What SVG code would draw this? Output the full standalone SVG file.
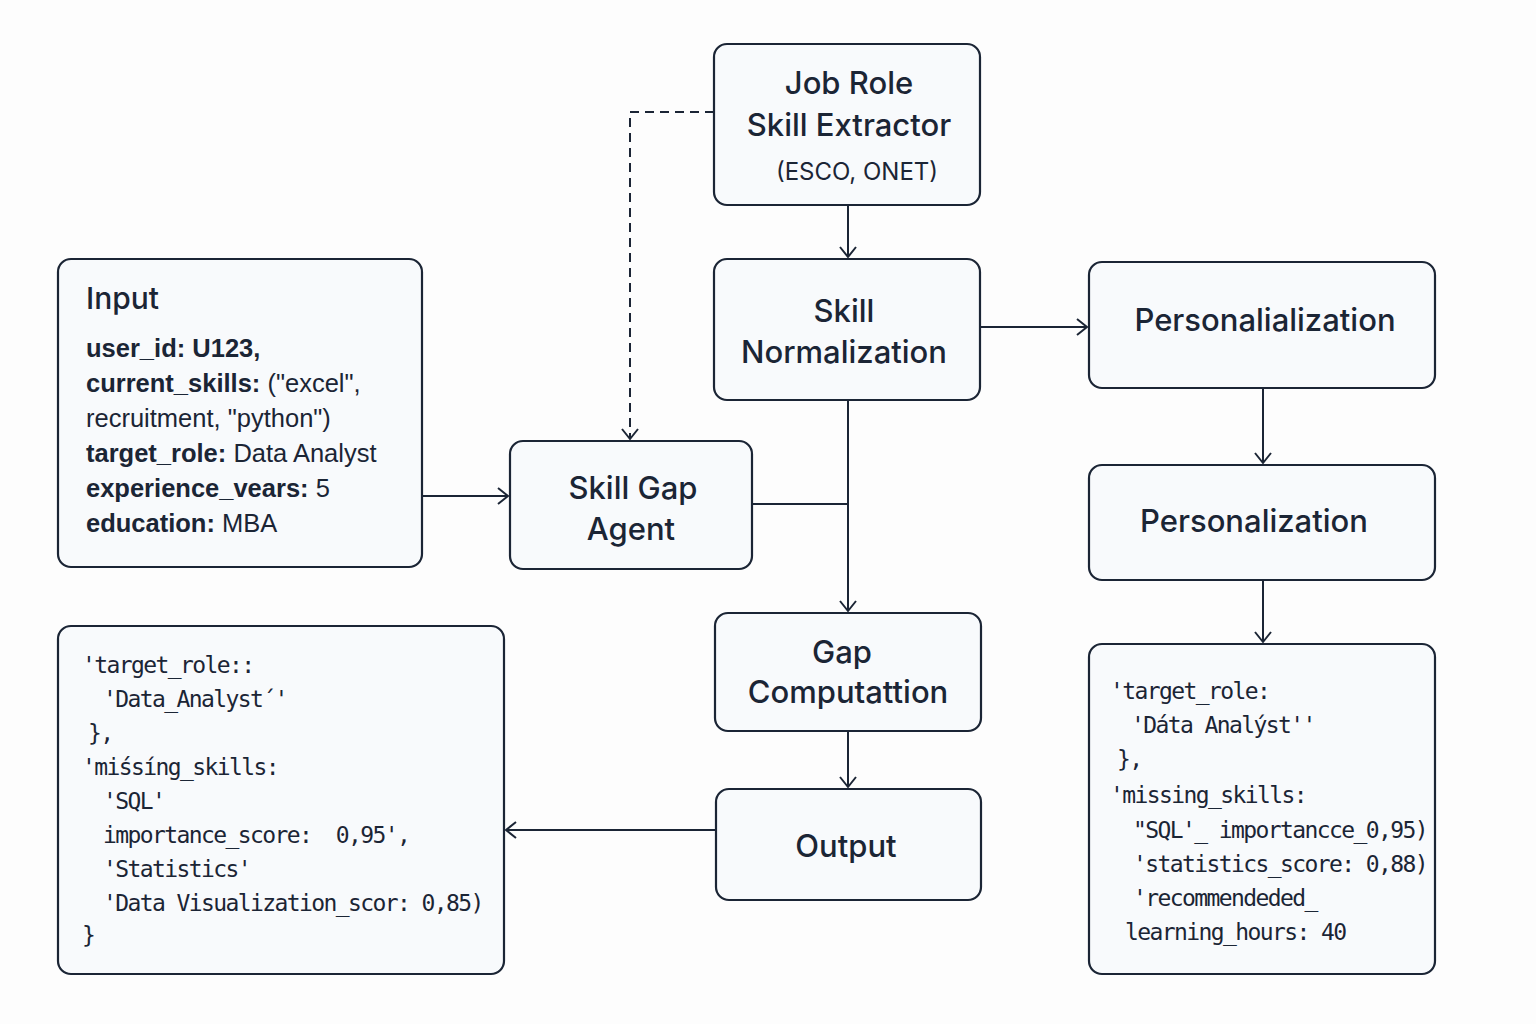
<svg xmlns="http://www.w3.org/2000/svg" width="1536" height="1024" viewBox="0 0 1536 1024">
<defs>
<style>
.box{fill:#f8fafc;stroke:#1b2535;stroke-width:2.2}
.t{font-family:Inter,"Liberation Sans",Arial,sans-serif;font-weight:500;fill:#1b2535;font-size:31px;text-anchor:middle}
.in{font-family:"Liberation Sans",Arial,sans-serif;fill:#1b2535;font-size:25.5px}
.b{font-weight:bold}
.m{font-family:"DejaVu Sans Mono","Liberation Mono",monospace;fill:#1b2535;font-size:23px;letter-spacing:-1.6px;white-space:pre}
.c{fill:none;stroke:#1b2535;stroke-width:2}
</style>
<marker id="a" viewBox="0 0 20 20" refX="18" refY="10" markerWidth="20" markerHeight="20" markerUnits="userSpaceOnUse" orient="auto">
<path d="M8 2 L18 10 L8 18" fill="none" stroke="#1b2535" stroke-width="2"/>
</marker>
</defs>
<rect width="1536" height="1024" fill="#fdfdfd"/>
<g id="connectors">
<path class="c" d="M714 112 H630 V439" stroke-dasharray="9 6" marker-end="url(#a)"/>
<path class="c" d="M848 205 V257" marker-end="url(#a)"/>
<path class="c" d="M981 327 H1087" marker-end="url(#a)"/>
<path class="c" d="M1263 388 V463" marker-end="url(#a)"/>
<path class="c" d="M1263 580 V642" marker-end="url(#a)"/>
<path class="c" d="M848 400 V611" marker-end="url(#a)"/>
<path class="c" d="M752 504 H848"/>
<path class="c" d="M422 496 H508" marker-end="url(#a)"/>
<path class="c" d="M848 731 V787" marker-end="url(#a)"/>
<path class="c" d="M716 830 H506" marker-end="url(#a)"/>
</g>
<g id="job-role">
<rect class="box" x="714" y="44" width="266" height="161" rx="13"/>
<text class="t" x="849" y="94">Job Role</text>
<text class="t" x="849" y="136">Skill Extractor</text>
<text class="t" x="857" y="180" style="font-size:24px;font-weight:400">(ESCO, ONET)</text>
</g>
<g id="skill-normalization">
<rect class="box" x="714" y="259" width="266" height="141" rx="13"/>
<text class="t" x="844" y="322">Skill</text>
<text class="t" x="844" y="363">Normalization</text>
</g>
<g id="personalialization">
<rect class="box" x="1089" y="262" width="346" height="126" rx="13"/>
<text class="t" x="1265" y="331" style="font-size:31px">Personalialization</text>
</g>
<g id="personalization">
<rect class="box" x="1089" y="465" width="346" height="115" rx="13"/>
<text class="t" x="1254" y="532" style="font-size:31px">Personalization</text>
</g>
<g id="input">
<rect class="box" x="58" y="259" width="364" height="308" rx="13"/>
<text class="t" x="86" y="309" style="text-anchor:start;font-size:30px">Input</text>
<text class="in" x="86" y="357"><tspan class="b">user_id:</tspan> <tspan class="b">U123,</tspan></text>
<text class="in" x="86" y="392"><tspan class="b">current_skills:</tspan> ("excel",</text>
<text class="in" x="86" y="427">recruitment, "python")</text>
<text class="in" x="86" y="462"><tspan class="b">target_role:</tspan> Data Analyst</text>
<text class="in" x="86" y="497"><tspan class="b">experience_vears:</tspan> 5</text>
<text class="in" x="86" y="532"><tspan class="b">education:</tspan> MBA</text>
</g>
<g id="skill-gap-agent">
<rect class="box" x="510" y="441" width="242" height="128" rx="13"/>
<text class="t" x="633" y="499">Skill Gap</text>
<text class="t" x="631" y="540">Agent</text>
</g>
<g id="gap-computation">
<rect class="box" x="715" y="613" width="266" height="118" rx="13"/>
<text class="t" x="842" y="663">Gap</text>
<text class="t" x="848" y="703">Computattion</text>
</g>
<g id="output">
<rect class="box" x="716" y="789" width="265" height="111" rx="13"/>
<text class="t" x="846" y="857">Output</text>
</g>
<g id="output-json">
<rect class="box" x="58" y="626" width="446" height="348" rx="13"/>
<text class="m" x="82" y="673">'target_role::</text>
<text class="m" x="103" y="707">'Data_Analyst´'</text>
<text class="m" x="88" y="741">},</text>
<text class="m" x="82" y="775">'miśsíng_skills:</text>
<text class="m" x="103" y="809">'SQL'</text>
<text class="m" x="103" y="843" xml:space="preserve">importance_score:  0,95',</text>
<text class="m" x="103" y="877">'Statistics'</text>
<text class="m" x="103" y="911">'Data Visualization_scor: 0,85)</text>
<text class="m" x="82" y="943">}</text>
</g>
<g id="personalized-json">
<rect class="box" x="1089" y="644" width="346" height="330" rx="13"/>
<text class="m" x="1110" y="699">'target_role:</text>
<text class="m" x="1131" y="733">'Dáta Analýst''</text>
<text class="m" x="1117" y="767">},</text>
<text class="m" x="1110" y="803">'missing_skills:</text>
<text class="m" x="1133" y="838">"SQL'_ importancce_0,95)</text>
<text class="m" x="1133" y="872">'statistics_score: 0,88)</text>
<text class="m" x="1133" y="906">'recommendeded_</text>
<text class="m" x="1125" y="940">learning_hours: 40</text>
</g>
</svg>
